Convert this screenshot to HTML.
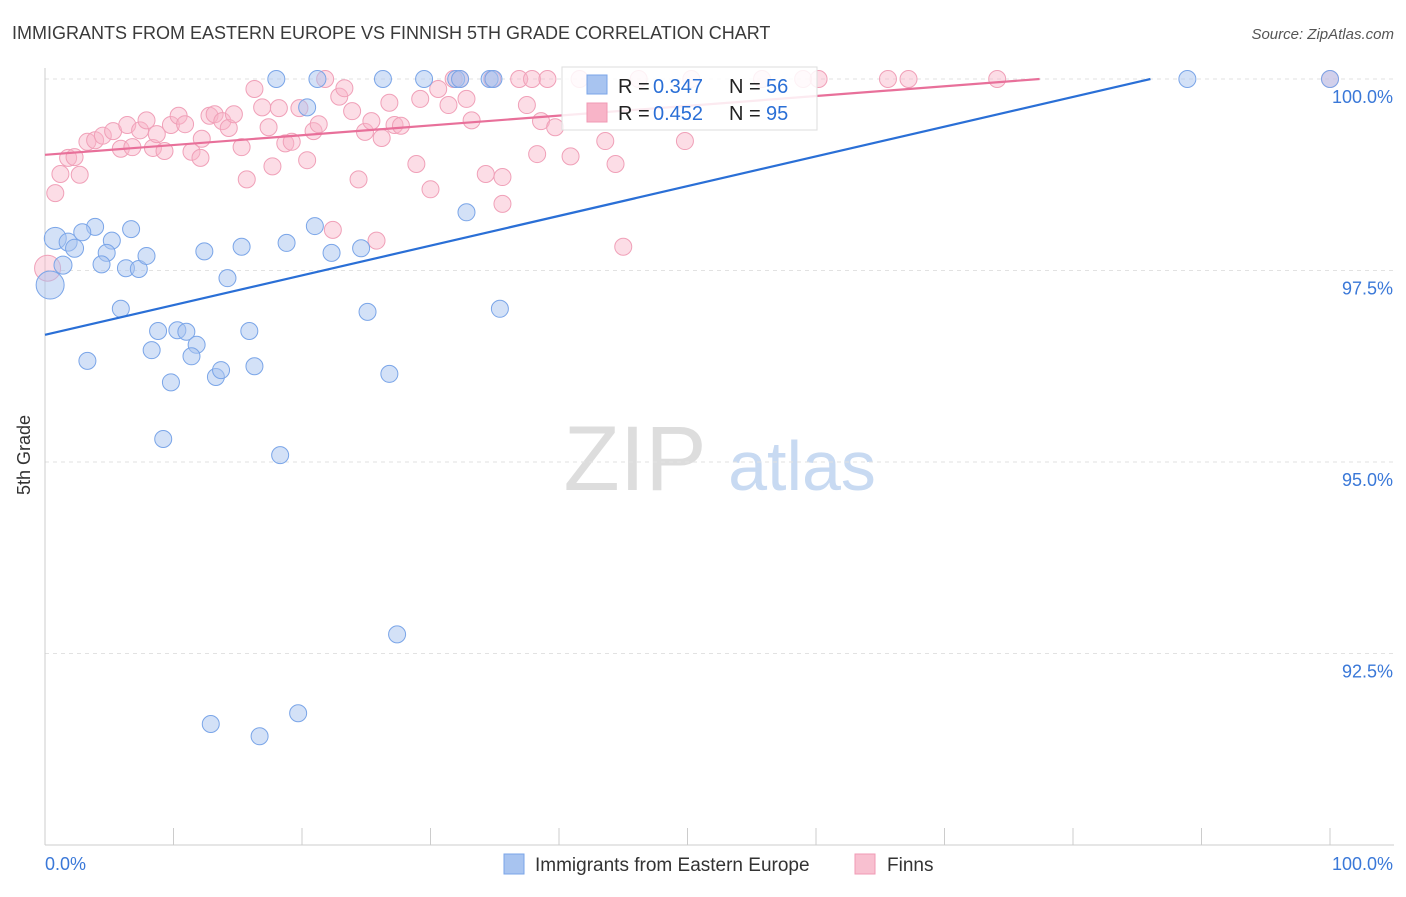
<!DOCTYPE html>
<html><head><meta charset="utf-8"><style>
body{margin:0;background:#fff;font-family:"Liberation Sans",sans-serif}
svg text{font-family:"Liberation Sans",sans-serif}
</style></head><body>
<svg id="chart" width="1406" height="892" viewBox="0 0 1406 892" xmlns="http://www.w3.org/2000/svg">
<text x="12" y="39" font-size="18" fill="#3a3a3a">IMMIGRANTS FROM EASTERN EUROPE VS FINNISH 5TH GRADE CORRELATION CHART</text>
<text x="1394" y="39" font-size="15" fill="#555" text-anchor="end" font-style="italic">Source: ZipAtlas.com</text>
<text x="30" y="455" font-size="18" fill="#333" text-anchor="middle" transform="rotate(-90 30 455)">5th Grade</text>
<g><text x="635" y="490" font-size="92" fill="#ddd" font-family="Liberation Serif" text-anchor="middle">ZIP</text><text x="802" y="490" font-size="70" fill="#c8daf2" text-anchor="middle">atlas</text></g>
<g id="grid"></g><g id="axes"></g><g id="pts"></g><g id="lines"></g>
<g>
<rect x="562" y="67" width="255" height="63" fill="#fff" fill-opacity="0.85" stroke="#ddd"/>
<rect x="587" y="75" width="20" height="19" fill="#a8c4f0" stroke="#7aa5e8"/>
<text x="618" y="93" font-size="20" fill="#222">R = </text><text x="653" y="93" font-size="20" fill="#2a6fd6">0.347</text>
<text x="729" y="93" font-size="20" fill="#222">N = </text><text x="766" y="93" font-size="20" fill="#2a6fd6">56</text>
<rect x="587" y="103" width="20" height="19" fill="#f8b4c8" stroke="#f09ab4"/>
<text x="618" y="120" font-size="20" fill="#222">R = </text><text x="653" y="120" font-size="20" fill="#2a6fd6">0.452</text>
<text x="729" y="120" font-size="20" fill="#222">N = </text><text x="766" y="120" font-size="20" fill="#2a6fd6">95</text>
</g>
<g>
<rect x="504" y="854" width="20" height="20" fill="#a8c4f0" stroke="#7aa5e8"/>
<text x="535" y="871" font-size="19" fill="#333">Immigrants from Eastern Europe</text>
<rect x="855" y="854" width="20" height="20" fill="#f8c0d0" stroke="#f09ab4"/>
<text x="887" y="871" font-size="19" fill="#333">Finns</text>
</g>
</svg>
<script>
const yTicks=[100,97.5,95,92.5];
const yTickLabels=["100.0%","97.5%","95.0%","92.5%"];
const xTicks=[0,10,20,30,40,50,60,70,80,90,100];
const blueX=[0.8,1.8,2.3,1.4,0.4,3.9,2.9,5.2,4.8,4.4,6.3,7.3,6.7,7.9,5.9,3.3,8.8,8.3,10.3,11.0,11.8,11.4,9.8,13.3,13.7,16.3,15.9,12.4,14.2,15.3,18.8,21.0,22.3,24.6,25.1,26.8,32.8,35.4,9.2,18.3,27.4,12.9,16.7,19.7,18.0,21.2,26.3,29.5,32.0,32.3,34.6,34.9,88.9,100,20.4];
const blueY=[97.92,97.87,97.79,97.57,97.31,98.07,98.0,97.89,97.73,97.58,97.53,97.52,98.04,97.69,97.0,96.32,96.71,96.46,96.72,96.70,96.53,96.38,96.04,96.11,96.20,96.25,96.71,97.75,97.40,97.81,97.86,98.08,97.73,97.79,96.96,96.15,98.26,97.0,95.30,95.09,92.75,91.58,91.42,91.72,100,100,100,100,100,100,100,100,100,100,99.63];
const blueR=[11,9,9,9,14];
const pinkX=[0.8,1.2,2.7,1.8,2.3,3.3,3.9,4.5,5.3,5.9,6.4,6.8,7.4,7.9,8.4,8.7,9.3,9.8,10.4,10.9,11.4,12.1,12.2,12.8,13.2,13.8,14.3,14.7,15.3,15.7,16.3,16.9,17.4,17.7,18.2,18.7,19.2,19.8,20.4,20.9,21.3,21.8,22.4,22.9,23.3,23.9,24.4,24.9,25.4,25.8,26.2,26.8,27.2,27.7,28.9,29.2,30.0,30.6,31.4,31.8,32.3,32.8,33.2,34.3,34.8,35.6,35.6,36.9,37.5,37.9,38.6,39.1,38.3,39.7,40.9,41.6,43.6,44.4,45.0,46.2,49.8,50.3,55.8,59.0,60.2,65.6,67.2,74.1,100,0.2];
const pinkY=[98.51,98.76,98.75,98.97,98.98,99.18,99.2,99.26,99.32,99.09,99.4,99.11,99.33,99.46,99.1,99.28,99.06,99.4,99.52,99.41,99.05,98.97,99.22,99.52,99.54,99.45,99.36,99.54,99.11,98.69,99.87,99.63,99.37,98.86,99.62,99.16,99.18,99.62,98.94,99.32,99.41,100,98.03,99.77,99.88,99.58,98.69,99.31,99.45,97.89,99.23,99.69,99.4,99.39,98.89,99.74,98.56,99.87,99.66,100,100,99.74,99.46,98.76,100,98.72,98.37,100,99.66,100,99.45,100,99.02,99.37,98.99,100,99.19,98.89,97.81,100,99.19,100,100,100,100,100,100,100,100,97.53];
const blueTrend=[96.66,100.03];
const pinkTrend=[99.01,100.0];
const xS=v=>45+v*12.85, yS=v=>79+(100-v)*76.6;
const NS="http://www.w3.org/2000/svg";
function mk(tag,attrs,parent){const e=document.createElementNS(NS,tag);for(const k in attrs)e.setAttribute(k,attrs[k]);parent.appendChild(e);return e;}
const grid=document.getElementById('grid'),axes=document.getElementById('axes'),pts=document.getElementById('pts'),lines=document.getElementById('lines');
yTicks.forEach((t,i)=>{
 const l=mk('line',{x1:45,x2:1394,y1:yS(t),y2:yS(t),stroke:'#e2e2e2','stroke-dasharray':'4,4'},grid);
 
 
 const tx=mk('text',{x:1393,y:yS(t)+24,'font-size':18,fill:'#3a78d8','text-anchor':'end'},axes);
 tx.textContent=yTickLabels[i];
 
 
});
const yAx=mk('line',{x1:45,x2:45,y1:68,y2:845,stroke:'#ccc'},axes);


const xAx=mk('line',{x1:45,x2:1394,y1:845,y2:845,stroke:'#ccc'},axes);


xTicks.forEach(t=>{const l=mk('line',{x1:xS(t),x2:xS(t),y1:828,y2:845,stroke:'#ccc'},axes);
 
 });
[["0.0%",45,'start'],["100.0%",1393,'end']].forEach(a=>{const tx=mk('text',{x:a[1],y:870,'font-size':18,fill:'#3a78d8','text-anchor':a[2]},axes);tx.textContent=a[0];
 
 });
pinkX.forEach((x,i)=>{const c=mk('circle',{cx:xS(x),cy:yS(pinkY[i]),r:i==pinkX.length-1?13:8.5,fill:'#f8b4c8','fill-opacity':0.45,stroke:'#f0a0b8','stroke-width':1},pts);
 
 });
blueX.forEach((x,i)=>{const c=mk('circle',{cx:xS(x),cy:yS(blueY[i]),r:blueR[i]||8.5,fill:'#a8c4f0','fill-opacity':0.5,stroke:'#7aa5e8','stroke-width':1},pts);
 
 });
function trend(tr,xEnd,color,name){
 const slope=(tr[1]-tr[0])/xEnd; const xHit=Math.min(100,(100-tr[0])/slope);
 const l=mk('line',{x1:xS(0),y1:yS(tr[0]),x2:xS(xHit),y2:yS(tr[0]+slope*xHit),stroke:color,'stroke-width':2.2},lines);
 
 
}
trend(blueTrend,86.8,'#2a6fd6','eastern-europe-trend-line');
trend(pinkTrend,77.4,'#e8709a','finns-trend-line');
</script>
</body></html>
